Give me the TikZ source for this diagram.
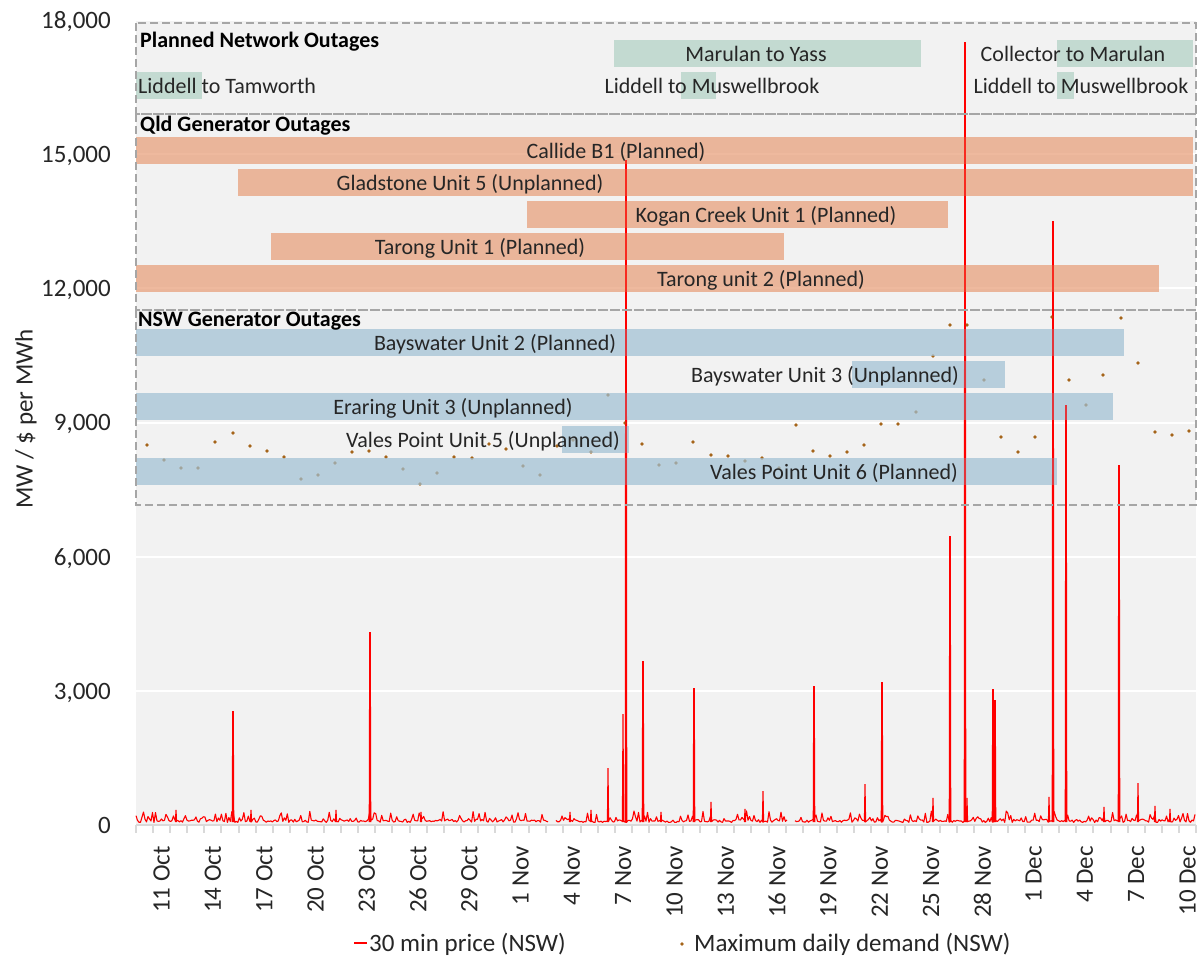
\documentclass[tikz,border=0pt]{standalone}
\usepackage{fontspec}
\setmainfont{Carlito}
\definecolor{plotbg}{RGB}{242,242,242}
\definecolor{txt}{RGB}{38,38,38}
\definecolor{boxgray}{RGB}{166,166,166}
\definecolor{axisgray}{RGB}{217,217,217}
\definecolor{netc}{RGB}{176,208,196}
\definecolor{qldc}{RGB}{231,156,118}
\definecolor{nswc}{RGB}{159,192,212}
\definecolor{dotc}{RGB}{165,100,25}
\definecolor{pricec}{RGB}{255,0,0}
\begin{document}
\begin{tikzpicture}[x=1pt,y=-1pt,
  bartext/.style={font=\fontsize{22}{26}\selectfont, text=txt, inner sep=0pt, anchor=base},
  hdr/.style={font=\fontsize{22}{26}\selectfont\bfseries, text=black, inner sep=0pt, anchor=base west},
  ytick/.style={font=\fontsize{25}{30}\selectfont, text=txt, inner sep=0pt, anchor=base east},
  xtick/.style={font=\fontsize{25}{30}\selectfont, text=txt, inner sep=0pt, anchor=east, rotate=90},
  legtext/.style={font=\fontsize{25}{30}\selectfont, text=txt, inner sep=0pt, anchor=base west},
  grp/.style={draw=boxgray, dash pattern=on 8pt off 4pt, line width=1.3pt},
  netbar/.style={fill=netc, fill opacity=0.7},
  qldbar/.style={fill=qldc, fill opacity=0.7},
  nswbar/.style={fill=nswc, fill opacity=0.7},
  priceline/.style={draw=pricec, line width=1.1pt, line join=round},
  spike/.style={draw=pricec, line width=1.1pt, line join=miter, miter limit=2},
  bigspike/.style={draw=pricec, line width=1.6pt, line join=miter, miter limit=2},
  demanddot/.style={fill=dotc},
  gridw/.style={draw=white, line width=2pt},
  axisln/.style={draw=axisgray, line width=2pt}
]
\useasboundingbox (0,0) rectangle (1200,959);
\fill[white] (0,0) rectangle (1200,959);
% plot area
\fill[plotbg] (136,20) rectangle (1196,825);
\foreach \yy in {690.8,556.7,422.5,288.3,154.2,20}
  \draw[gridw] (136,\yy) -- (1196,\yy);
% x axis
\draw[axisln] (136,825) -- (1196,825);
\foreach \k in {0,...,62}
  \draw[axisln] ({136+17.097*\k},825) -- ++(0,8);
% price baseline
\pgfmathsetseed{12}
\draw[priceline] plot[domain=136:548, samples=276] (\x,{822.5-2.5*rnd-10*rnd^6});
\draw[priceline] plot[domain=556:787, samples=155] (\x,{822.5-2.5*rnd-10*rnd^6});
\draw[priceline] plot[domain=795:1195, samples=268] (\x,{822.5-2.5*rnd-10*rnd^6});
% spikes
\foreach \sx/\sy in {176/810,251/810,336/810,421/812,570/812,591/810,608/768,623/714,
  661/812,711/802,745/809,763/791,865/784,933/798,967/798,1049/797,1104/807,1138/783,1155/806,1170/809}
  \draw[spike] (\sx-0.6,822) -- (\sx,\sy) -- (\sx+0.6,822);
\foreach \sx/\sy in {233/711,370/632,626/160,643/661,694/688,814/686,882/682,950/536,965/42,993/689,995/700,1053/221,1066/405,1119/465}
  \draw[bigspike] (\sx-0.5,822) -- (\sx,\sy) -- (\sx+0.5,822);
% demand dots
\foreach \dx/\dy in {147/445,164/460,181/468,198/468,215/442,233/433,250/446,267/451,284/457,301/479,
  318/475,335/463,352/452,369/451,386/457,403/469,420/484,437/473,454/457,472/458,
  489/444,506/449,523/466,540/475,557/446,573/440,591/452,608/395,625/423,642/444,
  659/465,676/463,693/442,711/455,728/456,745/461,762/458,779/468,796/425,813/451,
  830/456,847/452,864/445,881/424,898/424,916/412,933/356,950/325,967/325,984/380,
  1001/437,1018/452,1035/437,1052/317,1069/380,1086/405,1103/375,1121/318,1138/363,1155/432,
  1172/435,1189/431}
  \fill[demanddot] (\dx,\dy) circle[radius=1.8pt];
% network bars
\fill[netbar] (136,72) rectangle (202,99);
\fill[netbar] (614,40) rectangle (921,67);
\fill[netbar] (681,72) rectangle (716,99);
\fill[netbar] (1057,40) rectangle (1193,67);
\fill[netbar] (1057,72) rectangle (1074,99);
% qld bars
\fill[qldbar] (136,137) rectangle (1193,164);
\fill[qldbar] (238,169) rectangle (1193,196);
\fill[qldbar] (527,201) rectangle (948,228);
\fill[qldbar] (271,233) rectangle (784,260);
\fill[qldbar] (136,265) rectangle (1159,292);
% nsw bars
\fill[nswbar] (136,329) rectangle (1124,356);
\fill[nswbar] (852,361) rectangle (1005,388);
\fill[nswbar] (136,393) rectangle (1113,420);
\fill[nswbar] (562,426) rectangle (629,453);
\fill[nswbar] (136,458) rectangle (1057,485);
% red showing through bars
\foreach \sx/\sy in {626/160,965/42,1053/221,1066/405,1119/465}
  \draw[draw=pricec, line width=1.6pt, opacity=0.6] (\sx,505) -- (\sx,\sy);
% group boxes
\draw[grp] (136,23) rectangle (1196,114);
\draw[grp] (136,114) rectangle (1196,310);
\draw[grp] (136,310) rectangle (1196,505);
% headers
\node[hdr] (hnet) at (140,47) {Planned Network Outages};
\node[hdr] (hqld) at (140,131) {Qld Generator Outages};
\node[hdr] (hnsw) at (138,326) {NSW Generator Outages};
% bar labels
\node[bartext, anchor=base west] (ltam) at (138,93) {Liddell to Tamworth};
\node[bartext] (myass) at (756,61) {Marulan to Yass};
\node[bartext] (lmus1) at (712,93) {Liddell to Muswellbrook};
\node[bartext] (cmar) at (1073,61) {Collector to Marulan};
\node[bartext] (lmus2) at (1081,93) {Liddell to Muswellbrook};
\node[bartext] (calb) at (616,158) {Callide B1 (Planned)};
\node[bartext] (glad) at (470,190) {Gladstone Unit 5 (Unplanned)};
\node[bartext] (kog) at (766,222) {Kogan Creek Unit 1 (Planned)};
\node[bartext] (tar1) at (480,254) {Tarong Unit 1 (Planned)};
\node[bartext] (tar2) at (761,286) {Tarong unit 2 (Planned)};
\node[bartext] (bay2) at (495,350) {Bayswater Unit 2 (Planned)};
\node[bartext] (bay3) at (825,382) {Bayswater Unit 3 (Unplanned)};
\node[bartext] (era3) at (453,414) {Eraring Unit 3 (Unplanned)};
\node[bartext] (vp5) at (483,447) {Vales Point Unit 5 (Unplanned)};
\node[bartext] (vp6) at (834,479) {Vales Point Unit 6 (Planned)};
% y ticks
\node[ytick] (y18) at (111,28.5) {18,000};
\node[ytick] (y15) at (111,162.5) {15,000};
\node[ytick] (y12) at (111,296.5) {12,000};
\node[ytick] (y9) at (111,430.5) {9,000};
\node[ytick] (y6) at (111,565) {6,000};
\node[ytick] (y3) at (111,699) {3,000};
\node[ytick] (y0) at (111,833.5) {0};
\node[font=\fontsize{25}{30}\selectfont, text=txt, inner sep=0pt, rotate=90] (ytitle) at (26,419) {MW / \$ per MWh};
% x tick labels
\foreach \lab [count=\i from 0] in {11 Oct,14 Oct,17 Oct,20 Oct,23 Oct,26 Oct,29 Oct,1 Nov,4 Nov,7 Nov,10 Nov,13 Nov,16 Nov,19 Nov,22 Nov,25 Nov,28 Nov,1 Dec,4 Dec,7 Dec,10 Dec}
  \node[xtick] (d\i) at ({136+17.097*(1.5+3*\i)},846) {\lab};
% legend
\coordinate (lga) at (354,943);
\coordinate (lgb) at (367,943);
\draw[draw=pricec, line width=2pt] (lga) -- (lgb);
\node[legtext] (lgt1) at (369,951) {30 min price (NSW)};
\coordinate (lgdot) at (682,944);
\fill[demanddot] (lgdot) circle[radius=1.8pt];
\node[legtext] (lgt2) at (694,951) {Maximum daily demand (NSW)};
\end{tikzpicture}
\end{document}
